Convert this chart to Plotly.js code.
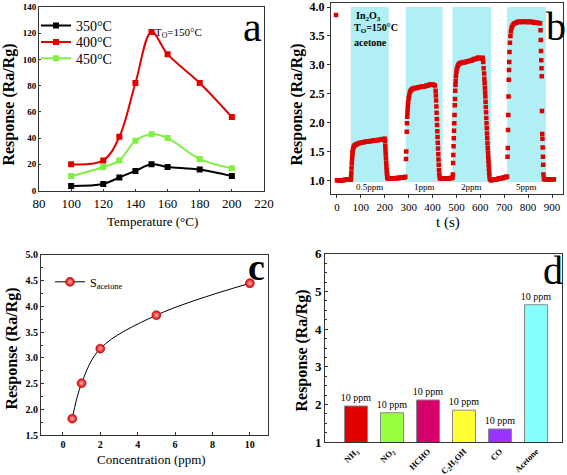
<!DOCTYPE html>
<html><head><meta charset="utf-8">
<script src="https://cdn.plot.ly/plotly-3.0.1.min.js"></script>
<style>html,body{margin:0;padding:0;background:#fff}#chart{width:567px;height:475px}</style>
</head><body><div id="chart"></div>
<script>
// ---------- Panel a: response vs operating temperature ----------
const tempC = [100, 120, 130, 140, 150, 160, 180, 200];
const resp350 = [3.5, 5, 10, 15, 20, 18, 16, 11];
const resp400 = [20, 23, 41, 82, 121, 104, 82, 56];
const resp450 = [11, 18, 23, 38, 43, 40, 24, 17];

// ---------- Panel b: dynamic response (acetone, 150 C) ----------
const timeS = [
  0,4,8,12,16,20,24,28,32,36,40,44,48,52,56,
  58,59,60,61,62,63,64,65,66,68,70,73,76,80,85,90,
  95,100,105,110,115,120,125,130,135,140,145,150,155,160,165,170,175,180,185,190,195,200,
  201,202,203,204,205,206,207,208,209,210,211,212,214,
  218,222,226,230,234,238,242,246,250,254,258,262,266,270,274,278,282,
  286,289,290,292,293,294,295,296,297,298,300,302,305,308,312,316,320,325,
  330,335,340,345,350,355,360,365,370,375,380,385,390,395,400,405,410,
  413,414,415,416,417,418,419,420,421,422,423,424,425,426,427,428,430,432,
  436,440,444,448,452,456,460,464,468,472,476,480,
  484,485,486,487,488,489,490,491,492,493,494,495,496,497,498,500,502,505,508,512,516,
  520,525,530,535,540,545,550,555,560,565,570,575,580,585,590,595,600,605,610,
  612,614,616,617,618,619,620,621,622,623,624,625,626,627,628,629,630,631,632,633,634,635,636,637,638,640,
  644,648,652,656,660,664,668,672,676,680,684,688,692,696,700,704,708,
  712,714,715,716,717,718,719,720,721,722,724,726,728,731,735,740,745,
  750,755,760,765,770,775,780,785,790,795,800,805,810,815,820,825,830,835,840,845,850,
  852,853,854,855,856,857,858,859,860,861,862,863,864,866,
  868,872,876,880,884,888,892,896,900,904,908
];
const respB = [
  1.00,1.00,1.00,1.00,1.00,1.00,1.00,1.00,1.01,1.01,1.01,1.01,1.01,1.01,1.01,
  1.02,1.06,1.13,1.21,1.29,1.36,1.42,1.47,1.51,1.55,1.58,1.60,1.61,1.62,1.63,1.64,
  1.645,1.65,1.655,1.66,1.663,1.667,1.67,1.673,1.676,1.68,1.683,1.686,1.69,1.692,1.695,1.698,1.70,1.703,1.706,1.71,1.715,1.72,
  1.68,1.60,1.52,1.45,1.38,1.30,1.23,1.17,1.12,1.08,1.05,1.04,1.03,
  1.03,1.03,1.03,1.03,1.03,1.03,1.035,1.035,1.04,1.04,1.04,1.04,1.045,1.045,1.05,1.05,1.05,
  1.06,1.37,1.50,1.84,1.99,2.10,2.17,2.24,2.30,2.35,2.42,2.47,2.52,2.55,2.57,2.58,2.59,2.60,
  2.60,2.60,2.61,2.61,2.62,2.62,2.62,2.63,2.63,2.64,2.64,2.65,2.66,2.66,2.66,2.65,2.64,
  2.55,2.47,2.38,2.28,2.17,2.06,1.96,1.85,1.75,1.65,1.55,1.45,1.36,1.27,1.18,1.10,1.05,1.03,
  1.03,1.03,1.03,1.03,1.03,1.03,1.03,1.03,1.03,1.03,1.04,1.04,
  1.05,1.10,1.30,1.44,1.59,1.73,1.86,1.99,2.13,2.30,2.41,2.55,2.65,2.72,2.80,2.88,2.93,2.97,3.00,3.02,3.03,
  3.03,3.04,3.04,3.05,3.05,3.06,3.06,3.07,3.07,3.08,3.09,3.10,3.10,3.11,3.12,3.12,3.11,3.11,3.12,
  3.05,2.94,2.85,2.76,2.68,2.60,2.52,2.45,2.36,2.27,2.18,2.08,1.99,1.90,1.81,1.73,1.64,1.56,1.48,1.41,1.34,1.27,1.20,1.13,1.07,1.02,
  1.00,1.00,1.01,1.01,1.01,1.02,1.02,1.02,1.03,1.03,1.03,1.04,1.04,1.04,1.05,1.05,1.06,
  1.06,1.41,1.56,1.87,2.13,2.45,2.74,2.91,3.05,3.22,3.38,3.50,3.58,3.64,3.68,3.71,3.72,
  3.73,3.74,3.74,3.75,3.74,3.74,3.75,3.75,3.74,3.74,3.74,3.75,3.74,3.74,3.74,3.73,3.73,3.73,3.73,3.72,3.72,
  3.60,3.43,3.24,3.08,2.94,2.80,2.20,1.80,1.72,1.57,1.41,1.27,1.10,1.03,
  1.02,1.02,1.02,1.02,1.02,1.02,1.02,1.02,1.02,1.02,1.02
];
const pulseStart = [58, 288, 483, 712];
const pulseEnd = [217, 442, 646, 875];
const pulseLabels = ['0.5ppm', '1ppm', '2ppm', '5ppm'];

// ---------- Panel c: response vs concentration ----------
const concPpm = [0.5, 1, 2, 5, 10];
const respC = [1.82, 2.51, 3.18, 3.83, 4.45];

// ---------- Panel d: selectivity ----------
const gases = ['NH<sub>3</sub>', 'NO<sub>2</sub>', 'HCHO', 'C<sub>2</sub>H<sub>5</sub>OH', 'CO', 'Acetone'];
const respD = [1.96, 1.78, 2.12, 1.85, 1.35, 4.65];
const gasConc = ['10 ppm', '10 ppm', '10 ppm', '10 ppm', '10 ppm', '10 ppm'];
const barColors = ['#e00000', '#99ff40', '#d6006b', '#ffff33', '#9933ff', '#88ffff'];

const serif = '"Liberation Serif", "Times New Roman", Times, serif';
const P = (px) => px / 567;
const Q = (py) => 1 - py / 475;

const traces = [
  {x: tempC, y: resp350, xaxis: 'x', yaxis: 'y', name: '350°C', mode: 'lines+markers', line: {shape: 'spline', color: '#000', width: 2}, marker: {symbol: 'square', size: 6, color: '#000'}, legend: 'legend'},
  {x: tempC, y: resp400, xaxis: 'x', yaxis: 'y', name: '400°C', mode: 'lines+markers', line: {shape: 'spline', color: '#e00000', width: 2}, marker: {symbol: 'square', size: 6, color: '#e00000'}, legend: 'legend4'},
  {x: tempC, y: resp450, xaxis: 'x', yaxis: 'y', name: '450°C', mode: 'lines+markers', line: {shape: 'spline', color: '#80f040', width: 2}, marker: {symbol: 'square', size: 6, color: '#80f040'}, legend: 'legend5'},
  {x: timeS, y: respB, xaxis: 'x2', yaxis: 'y2', name: 'In<sub>2</sub>O<sub>3</sub>', mode: 'markers', marker: {symbol: 'square', size: 4.5, color: '#dd0000'}, legend: 'legend3'},
  {x: concPpm, y: respC, xaxis: 'x3', yaxis: 'y3', name: 'S<sub>acetone</sub>', mode: 'lines+markers', line: {shape: 'spline', color: '#000', width: 1}, marker: {symbol: 'circle', size: 9, color: '#dd0000', gradient: {type: 'radial', color: '#ffb0b0'}, line: {color: '#900', width: 0.5}}, legend: 'legend2'},
  {x: gases, y: respD, xaxis: 'x4', yaxis: 'y4', type: 'bar', width: 0.64, marker: {color: barColors, line: {color: '#888', width: 1}}, text: gasConc, textposition: 'outside', constraintext: 'none', cliponaxis: false, textfont: {family: serif, size: 10, color: '#000'}, showlegend: false}
];

const shapes = pulseStart.map((s, i) => ({type: 'rect', xref: 'x2', yref: 'y2', x0: s, x1: pulseEnd[i], y0: 0.97, y1: 4.0, fillcolor: '#b0f0f4', line: {width: 0}, layer: 'below'}));

const ax = (o) => Object.assign({showline: true, mirror: true, linecolor: '#333', linewidth: 1, showgrid: false, zeroline: false, ticks: 'outside', ticklen: 3, tickcolor: '#333'}, o);

const note = (text, px, py, font, extra) => Object.assign({text: text, x: P(px), y: Q(py), xref: 'paper', yref: 'paper', xanchor: 'center', yanchor: 'middle', showarrow: false, font: Object.assign({family: serif, color: '#000'}, font)}, extra || {});

const annotations = [
  note('a', 252, 25, {size: 42}),
  note('b', 556, 25, {size: 40}),
  note('c', 256, 266, {size: 38, weight: 'bold'}),
  note('d', 553, 270, {size: 40}),
  note('T<sub>O</sub>=150°C', 178, 31, {size: 11}),
  note('T<sub>O</sub>=150°C', 352, 27, {size: 10, weight: 'bold'}, {xanchor: 'left'}),
  note('acetone', 352, 41, {size: 10, weight: 'bold'}, {xanchor: 'left'}),
  note('Response (Ra/Rg)', 9, 103, {size: 16, weight: 'bold'}, {textangle: -90}),
  note('Temperature (°C)', 152, 220, {size: 13}),
  note('Response (Ra/Rg)', 297, 103, {size: 16, weight: 'bold'}, {textangle: -90}),
  note('t (s)', 448, 221, {size: 15}),
  note('Response (Ra/Rg)', 12, 348, {size: 16, weight: 'bold'}, {textangle: -90}),
  note('Concentration (ppm)', 151, 459, {size: 13}),
  note('Response (Ra/Rg)', 302, 350, {size: 16, weight: 'bold'}, {textangle: -90})
];
pulseLabels.forEach((lab, i) => annotations.push({text: lab, x: (pulseStart[i] + pulseEnd[i]) / 2, y: 0.885, xref: 'x2', yref: 'y2', xanchor: 'center', yanchor: 'middle', showarrow: false, font: {family: serif, size: 9}}));

const leg = (px, py, size, extra) => Object.assign({x: P(px), y: Q(py), xanchor: 'left', yanchor: 'middle', bgcolor: 'rgba(0,0,0,0)', font: {family: serif, size: size}, itemwidth: 30}, extra || {});

const layout = {
  width: 567, height: 475, margin: {l: 0, r: 0, t: 0, b: 0},
  paper_bgcolor: '#fff', plot_bgcolor: '#fff',
  font: {family: serif, color: '#000'},
  showlegend: true,
  xaxis: ax({domain: [P(39), P(264)], range: [80, 220], tickvals: [80,100,120,140,160,180,200,220], ticks: 'inside', ticklen: 2, tickfont: {size: 13}, anchor: 'y'}),
  yaxis: ax({domain: [Q(190), Q(5)], range: [-0.5, 140], tickvals: [0,20,40,60,80,100,120,140], ticks: 'inside', ticklen: 2, tickfont: {size: 9, weight: 'bold'}, anchor: 'x'}),
  xaxis2: ax({domain: [P(331), P(563)], range: [-25, 946], tickvals: [0,100,200,300,400,500,600,700,800,900], tickfont: {size: 11}, anchor: 'y2'}),
  yaxis2: ax({domain: [Q(193), Q(1)], range: [0.76, 4.07], tickvals: [1,1.5,2,2.5,3,3.5,4], tickformat: '.1f', tickfont: {size: 12, weight: 'bold'}, anchor: 'x2'}),
  xaxis3: ax({domain: [P(41), P(268)], range: [-1.17, 10.97], tickvals: [0,2,4,6,8,10], ticks: 'inside', tickfont: {size: 10, weight: 'bold'}, anchor: 'y3'}),
  yaxis3: ax({domain: [Q(435), Q(254)], range: [1.5, 5.0], tickvals: [1.5,2,2.5,3,3.5,4,4.5,5], tickformat: '.1f', ticks: 'inside', tickfont: {size: 10, weight: 'bold'}, minor: {ticks: 'inside', ticklen: 2, dtick: 0.25}, anchor: 'x3'}),
  xaxis4: ax({domain: [P(325), P(562)], range: [-0.86, 5.72], ticks: '', tickangle: -45, tickfont: {size: 8.5, weight: 'bold'}, anchor: 'y4'}),
  yaxis4: ax({domain: [Q(442), Q(253)], range: [1, 6], tickvals: [1,2,3,4,5,6], ticks: 'inside', tickfont: {size: 13, weight: 'bold'}, minor: {ticks: 'inside', ticklen: 2, dtick: 0.25}, anchor: 'x4'}),
  legend: leg(36, 24, 14),
  legend4: leg(36, 40.5, 14),
  legend5: leg(36, 57, 14),
  legend2: leg(50, 281, 12),
  legend3: leg(316, 13, 10, {font: {family: serif, size: 10, weight: 'bold'}}),
  shapes: shapes,
  annotations: annotations
};

Plotly.newPlot('chart', traces, layout, {staticPlot: true, displayModeBar: false});
</script>
</body></html>
